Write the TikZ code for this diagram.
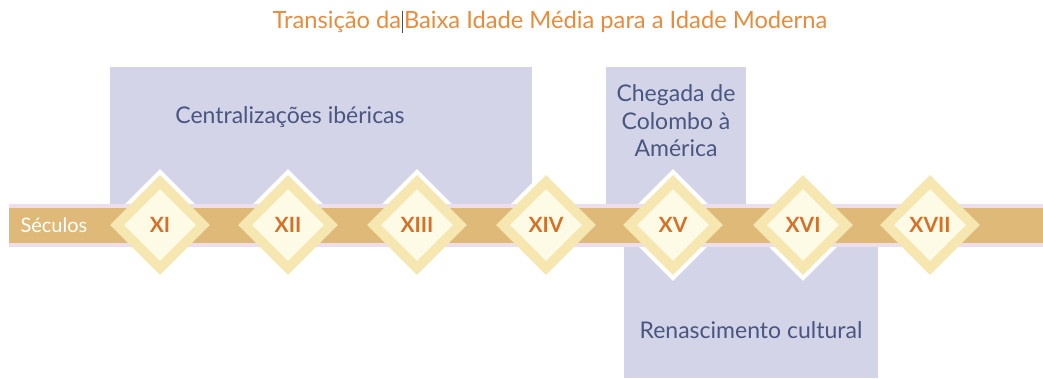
\documentclass[tikz,border=0pt]{standalone}
\usepackage{fontspec}
\setmainfont{Lato}
\usetikzlibrary{shapes.geometric}
\definecolor{boxc}{RGB}{211,212,232}
\definecolor{bandc}{RGB}{222,185,120}
\definecolor{shadc}{RGB}{238,222,236}
\definecolor{dout}{RGB}{246,230,176}
\definecolor{dinn}{RGB}{253,250,230}
\definecolor{numc}{RGB}{214,112,40}
\definecolor{titc}{RGB}{232,140,60}
\definecolor{txtc}{RGB}{72,86,128}
\tikzset{
  period/.style={fill=boxc, draw=none},
  halo/.style={diamond, fill=white, draw=none, minimum size=112pt, inner sep=0pt},
  dmout/.style={diamond, fill=dout, draw=none, minimum size=100pt, inner sep=0pt},
  dmin/.style={diamond, fill=dinn, draw=none, minimum size=72pt, inner sep=0pt,
    font=\fontsize{21}{21}\selectfont\bfseries, text=numc},
  lbl/.style={text=txtc, font=\fontsize{23}{27.5}\selectfont, align=center},
}
\begin{document}
\begin{tikzpicture}[x=1pt,y=-1pt]
\useasboundingbox (0,0) rectangle (1043,378);
% title
\node[text=titc, font=\fontsize{23.7}{23.7}\selectfont] (title) at (550,22) {Transição da\hspace{1pt}\textcolor{black!70}{\rule[-4pt]{0.9pt}{22pt}}\hspace{1pt}Baixa Idade Média para a Idade Moderna};
% period boxes
\fill[period] (110,67) rectangle (532,208);
\fill[period] (606,67) rectangle (746,208);
\fill[period] (624,243) rectangle (878,378);
\node[lbl] (cent) at (290,117) {Centralizações ibéricas};
\node[lbl] (cheg) at (676,121) {Chegada de\\Colombo à\\América};
\node[lbl] (ren) at (751,330) {Renascimento cultural};
% halos
\foreach \x/\n in {160/a,288/b,417/c,546/d,673/e,803/f,930/g}{
  \node[halo] (h\n) at (\x,225) {};
}
% band
\fill[shadc] (9,204) rectangle (1043,247);
\fill[bandc] (9,208) rectangle (1043,243);
\node[text=white, font=\fontsize{20}{20}\selectfont, anchor=west] (sec) at (17,225.5) {Séculos};
% diamonds
\foreach \x/\n/\t in {160/a/XI,288/b/XII,417/c/XIII,546/d/XIV,673/e/XV,803/f/XVI,930/g/XVII}{
  \node[dmout] (o\n) at (\x,225) {};
  \node[dmin] (i\n) at (\x,225) {\t};
}
\end{tikzpicture}
\end{document}
